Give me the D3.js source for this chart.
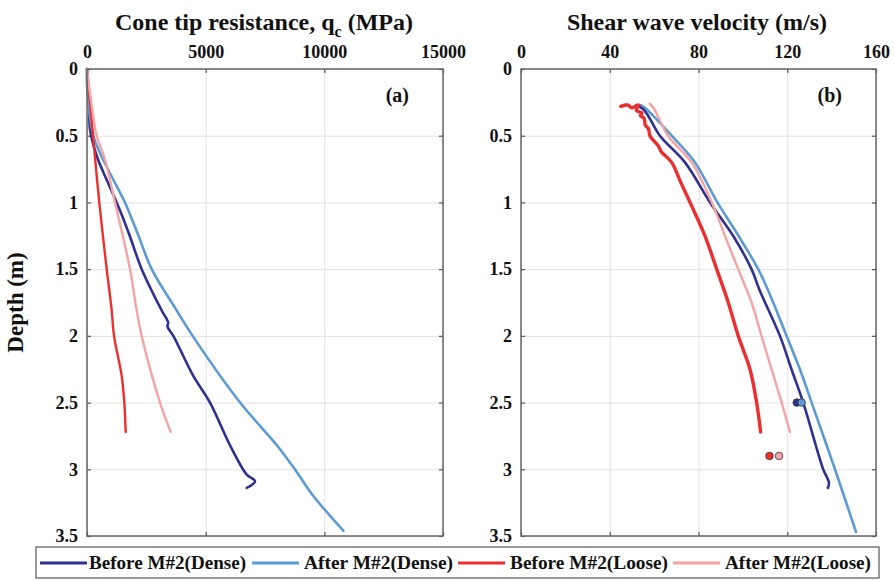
<!DOCTYPE html>
<html>
<head>
<meta charset="utf-8">
<script src="https://cdn.jsdelivr.net/npm/d3@7"></script>
<style>
  body { margin: 0; background: #fff; }
  text { font-family: "Liberation Serif", "Times New Roman", serif; font-weight: bold; fill: #111; }
</style>
</head>
<body>
<div id="chart"></div>
<script>
// depth (m), value pairs
const qcBeforeDense = [[0,0],[0.25,90],[0.45,126],[0.65,408],[0.83,829],[1.0,1250],[1.1,1480],[1.25,1800],[1.5,2305],[1.81,3148],[1.9,3420],[1.93,3390],[2.0,3637],[2.3,4480],[2.5,5183],[2.82,6026],[3.04,6730],[3.09,7080],[3.14,6730]];
const qcAfterDense = [[0,0],[0.12,0],[0.5,267],[0.63,548],[0.83,1110],[1.0,1600],[1.25,2170],[1.5,2726],[1.81,3780],[2.0,4450],[2.5,6450],[2.82,8000],[3.02,8836],[3.2,9537],[3.46,10800]];
const qcBeforeLoose = [[0,0],[0.25,130],[0.5,253],[1.0,518],[1.5,830],[1.81,1041],[2.0,1138],[2.3,1461],[2.5,1572],[2.72,1631]];
const qcAfterLoose = [[0,0],[0.25,180],[0.5,409],[0.68,758],[1.0,1180],[1.5,1812],[1.81,2094],[2.0,2305],[2.5,3076],[2.72,3527]];

const vsBeforeDense = [[0.27,52],[0.3,55],[0.35,57.3],[0.5,62.6],[0.7,73.9],[1.0,85.2],[1.25,95.6],[1.5,103.9],[1.66,107.6],[2.0,116.7],[2.25,121.9],[2.5,127.2],[3.0,136.2],[3.1,138.8],[3.14,138.3]];
const vsAfterDense = [[0.27,54],[0.3,56.5],[0.35,59.5],[0.5,67.9],[0.7,78.4],[1.0,88.5],[1.25,98],[1.5,106.9],[1.66,111.4],[2.0,119.7],[2.25,125.7],[2.5,131],[3.0,141.5],[3.47,151]];
const vsBeforeLoose = [[0.28,45],[0.27,48],[0.29,50],[0.27,53],[0.31,52],[0.33,54.5],[0.35,53.8],[0.37,55.5],[0.42,56],[0.45,57.5],[0.5,58.1],[0.58,62],[0.62,63.2],[0.7,67.9],[0.85,72],[1.0,76.2],[1.25,82.9],[1.5,88.2],[1.75,93.4],[2.0,97.9],[2.25,103.2],[2.5,106.2],[2.72,108]];
const vsAfterLoose = [[0.26,58],[0.3,60],[0.5,66.2],[0.7,76.9],[1.0,86],[1.25,91.9],[1.5,97.9],[1.75,103.9],[2.0,108.4],[2.25,112.9],[2.5,117.5],[2.72,121.2]];

// single measurements in panel (b)
const dotDepth = [2.5, 2.5, 2.9, 2.9];
const dotVs = [124.3, 126.5, 112, 116.3];

const seriesNames = ["Before M#2(Dense)", "After M#2(Dense)", "Before M#2(Loose)", "After M#2(Loose)"];
const seriesColors = ["#2e3192", "#5b9bd5", "#ee2e2e", "#f5a3a3"];

const depthTicks = [0, 0.5, 1, 1.5, 2, 2.5, 3, 3.5];
const qcTicks = [0, 5000, 10000, 15000];
const vsTicks = [0, 40, 80, 120, 160];

const W = 894, H = 580;
const yTop = 69, yBot = 536;

const svg = d3.select("#chart").append("svg")
  .attr("width", W).attr("height", H);

const y = d3.scaleLinear().domain([0, 3.5]).range([yTop, yBot]);

function panel(x, ticks, data, order, widths, label) {
  const [x0, x1] = x.range();
  const g = svg.append("g");

  // grid
  g.append("g").attr("transform", `translate(0,${yTop})`)
    .call(d3.axisTop(x).tickValues(ticks).tickSize(-(yBot - yTop)).tickFormat(""))
    .call(a => a.select(".domain").remove())
    .selectAll("line").attr("stroke", "#e2e2e2");
  g.append("g").attr("transform", `translate(${x0},0)`)
    .call(d3.axisLeft(y).tickValues(depthTicks).tickSize(-(x1 - x0)).tickFormat(""))
    .call(a => a.select(".domain").remove())
    .selectAll("line").attr("stroke", "#e2e2e2");

  // inward ticks on every side
  const tk = [
    [d3.axisTop(x).tickValues(ticks), `translate(0,${yTop})`],
    [d3.axisBottom(x).tickValues(ticks), `translate(0,${yBot})`],
    [d3.axisLeft(y).tickValues(depthTicks), `translate(${x0},0)`],
    [d3.axisRight(y).tickValues(depthTicks), `translate(${x1},0)`]
  ];
  tk.forEach(([ax, tr]) => {
    g.append("g").attr("transform", tr)
      .call(ax.tickSize(-4).tickFormat(""))
      .call(a => a.select(".domain").remove())
      .selectAll("line").attr("stroke", "#555").attr("stroke-width", 1.2);
  });

  // tick labels
  g.append("g").attr("transform", `translate(0,${yTop})`)
    .call(d3.axisTop(x).tickValues(ticks).tickSize(0).tickPadding(11).tickFormat(d3.format("d")))
    .call(a => a.select(".domain").remove())
    .selectAll("text").attr("font-size", 18).attr("fill", "#111")
    .attr("font-family", "Liberation Serif").attr("font-weight", "bold");
  g.append("g").attr("transform", `translate(${x0},0)`)
    .call(d3.axisLeft(y).tickValues(depthTicks).tickSize(0).tickPadding(9).tickFormat(d3.format("~g")))
    .call(a => a.select(".domain").remove())
    .selectAll("text").attr("font-size", 18).attr("fill", "#111")
    .attr("font-family", "Liberation Serif").attr("font-weight", "bold");

  // lines
  const line = d3.line().x(d => x(d[1])).y(d => y(d[0])).curve(d3.curveCatmullRom.alpha(0.5));
  order.forEach(i => {
    g.append("path").datum(data[i])
      .attr("fill", "none")
      .attr("stroke", seriesColors[i])
      .attr("stroke-width", widths[i])
      .attr("stroke-linejoin", "round")
      .attr("stroke-linecap", "round")
      .attr("d", line);
  });

  // frame
  g.append("rect")
    .attr("x", x0).attr("y", yTop)
    .attr("width", x1 - x0).attr("height", yBot - yTop)
    .attr("fill", "none").attr("stroke", "#666").attr("stroke-width", 1.5);

  g.append("text").attr("x", x1 - 34).attr("y", 102)
    .attr("text-anchor", "end").attr("font-size", 20).text(label);
  return g;
}

const xa = d3.scaleLinear().domain([0, 15000]).range([87, 443]);
const xb = d3.scaleLinear().domain([0, 160]).range([521, 876]);

panel(xa, qcTicks, [qcBeforeDense, qcAfterDense, qcBeforeLoose, qcAfterLoose], [0, 1, 2, 3], [2.6, 2.6, 2.4, 2.4], "(a)");
const gb = panel(xb, vsTicks, [vsBeforeDense, vsAfterDense, vsBeforeLoose, vsAfterLoose], [1, 0, 3, 2], [2.6, 2.6, 3.4, 2.4], "(b)");

// dots
gb.selectAll("circle.pt").data(dotVs).enter().append("circle")
  .attr("class", "pt")
  .attr("cx", d => xb(d))
  .attr("cy", (d, i) => y(dotDepth[i]))
  .attr("r", 3.8)
  .attr("fill", (d, i) => seriesColors[i])
  .attr("stroke", "#333").attr("stroke-width", 0.8);

// titles
const t1 = svg.append("text").attr("x", 264).attr("y", 30)
  .attr("text-anchor", "middle").attr("font-size", 24);
t1.append("tspan").text("Cone tip resistance, q");
t1.append("tspan").attr("font-size", 16).attr("dy", 7).text("c");
t1.append("tspan").attr("dy", -7).text(" (MPa)");

svg.append("text").attr("x", 697).attr("y", 30)
  .attr("text-anchor", "middle").attr("font-size", 24)
  .text("Shear wave velocity (m/s)");

svg.append("text")
  .attr("transform", `translate(23,${(yTop + yBot) / 2}) rotate(-90)`)
  .attr("text-anchor", "middle").attr("font-size", 23)
  .text("Depth (m)");

// legend
const lg = svg.append("g");
lg.append("rect").attr("x", 36).attr("y", 547).attr("width", 843).attr("height", 31)
  .attr("fill", "#fff").attr("stroke", "#555").attr("stroke-width", 1.2);
const lineX = [40, 252, 458, 673];
const textX = [89, 304, 510, 725];
const textW = [157, 149, 158, 146];
seriesNames.forEach((n, i) => {
  lg.append("line").attr("x1", lineX[i]).attr("x2", lineX[i] + 47)
    .attr("y1", 563).attr("y2", 563)
    .attr("stroke", seriesColors[i]).attr("stroke-width", 3);
  lg.append("text").attr("x", textX[i]).attr("y", 569)
    .attr("font-size", 19)
    .attr("textLength", textW[i]).attr("lengthAdjust", "spacingAndGlyphs")
    .text(n);
});
</script>
</body>
</html>
